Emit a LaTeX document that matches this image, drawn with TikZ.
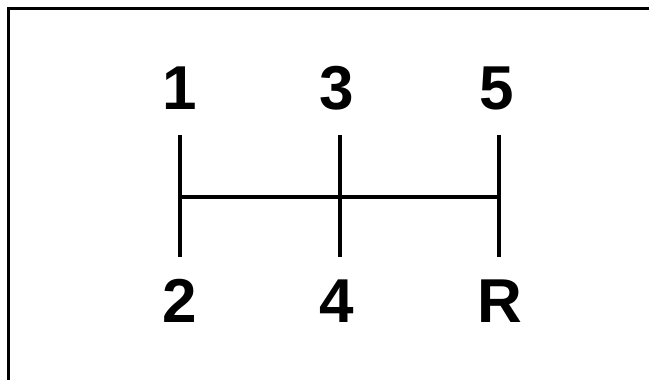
\documentclass[tikz,border=0pt]{standalone}
\usepackage{fontspec}
\setmainfont{Liberation Sans}
\begin{document}
\begin{tikzpicture}[x=1pt,y=-1pt,
  lbl/.style={font=\bfseries\fontsize{62}{62}\selectfont, inner sep=0pt, anchor=center},
  bar/.style={line width=4pt},
  frame/.style={line width=3pt}]
\useasboundingbox (0,0) rectangle (649,380);
\fill[white] (0,0) rectangle (649,380);
\coordinate (fl) at (8.5,380);
\coordinate (fc) at (8.5,8.5);
\coordinate (fr) at (649,8.5);
\draw[frame] (fl) -- (fc) -- (fr);
\node[lbl] (n1) at (180,88) {1};
\node[lbl] (n3) at (337,88) {3};
\node[lbl] (n5) at (497,88) {5};
\node[lbl] (n2) at (180,301) {2};
\node[lbl] (n4) at (337,301) {4};
\node[lbl] (nR) at (500,301) {R};
\coordinate (t1) at (180,135);
\coordinate (b1) at (180,257);
\coordinate (t3) at (340,135);
\coordinate (b3) at (340,257);
\coordinate (t5) at (498.5,135);
\coordinate (b5) at (498.5,257);
\coordinate (h1) at (180,196.5);
\coordinate (h5) at (498.5,196.5);
\draw[bar] (t1) -- (b1);
\draw[bar] (t3) -- (b3);
\draw[bar] (t5) -- (b5);
\draw[bar] (h1) -- (h5);
\end{tikzpicture}
\end{document}
